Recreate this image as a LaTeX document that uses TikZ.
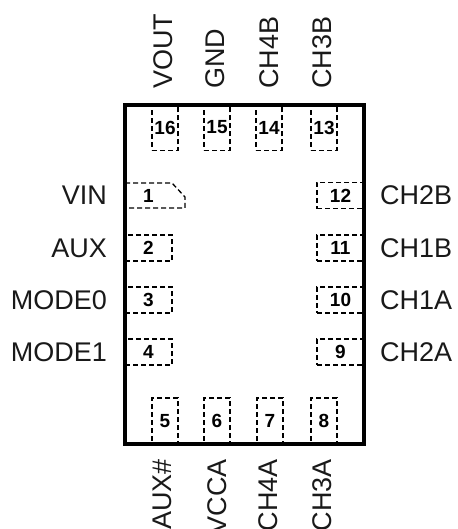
\documentclass[tikz,border=0pt]{standalone}
\usepackage{fontspec}
\setmainfont{Liberation Sans}

\begin{document}
\begin{tikzpicture}
[x=1pt,y=-1pt,
  every node/.style={inner sep=0pt},
  pinLine/.style={line width=1.3pt,dash pattern=on 5pt off 3pt},
  pinNum/.style={font=\bfseries\fontsize{19}{19}\selectfont},
  pinBox/.style={draw,pinLine,pinNum},
  sideBox/.style={pinBox,minimum width=47pt,minimum height=26pt},
  endBox/.style={pinBox,minimum width=26pt,minimum height=46pt},
  pinName/.style={font=\fontsize{27}{27}\selectfont,text=black!90}]
\useasboundingbox (0,0) rectangle (457,529);
\foreach \pinId/\xPos in {16/165, 15/217, 14/269, 13/324}
{
  \node[endBox] (p\pinId) at (\xPos,127.5) {\raisebox{-3pt}{\pinId}};
}
\foreach \pinId/\xPos in {5/165, 6/217, 7/270, 8/324}
{
  \node[endBox] (p\pinId) at (\xPos,421) {\raisebox{-1pt}{\pinId}};
}
\foreach \pinId/\yPos in {2/248, 3/300, 4/352}
{
  \node[sideBox] (p\pinId) at (148.5,\yPos) {\pinId};
}
\foreach \pinId/\yPos in {12/195.5, 11/248, 10/300, 9/352}
{
  \node[sideBox] (p\pinId) at (340.5,\yPos) {\pinId};
}
% pin 1 has the cut corner
\node[pinNum] (p1) at (148.5,195.5) {1};
\draw[pinLine]
  (125,183) -- (172,183) -- (185,197) -- (185,208) -- (125,208);
\draw[line width=3.5pt] (125,105) rectangle (364,444);
\foreach \pinId/\pinText in {1/VIN, 2/AUX, 3/MODE0, 4/MODE1}
{
  \node[pinName,anchor=east] at (107,0 |- p\pinId) {\pinText};
}
\foreach \pinId/\pinText in {12/CH2B, 11/CH1B, 10/CH1A, 9/CH2A}
{
  \node[pinName,anchor=west] at (380,0 |- p\pinId) {\pinText};
}
\foreach \pinText/\xPos in {VOUT/163, GND/215, CH4B/269, CH3B/322}
{
  \node[pinName,rotate=90,anchor=west] at (\xPos,89) {\pinText};
}
\foreach \pinText/\xPos in {AUX\#/162, VCCA/217, CH4A/268, CH3A/322}
{
  \node[pinName,rotate=90,anchor=east] at (\xPos,459) {\pinText};
}
\end{tikzpicture}
\end{document}
